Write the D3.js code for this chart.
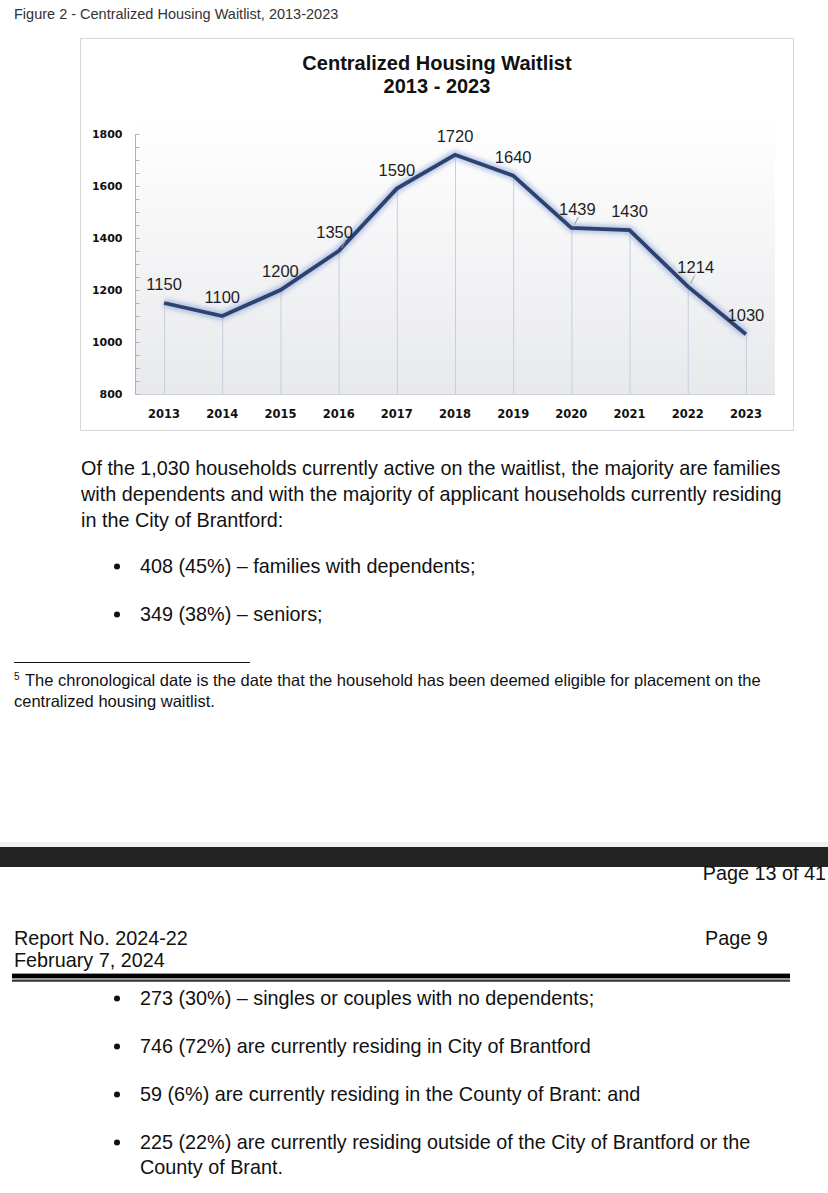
<!DOCTYPE html>
<html>
<head>
<meta charset="utf-8">
<script src="https://cdn.jsdelivr.net/npm/d3@7"></script>
<style>
  body { margin: 0; background: #fff; }
  svg { display: block; }
</style>
</head>
<body>
<div id="page"></div>
<script>
// Chart data
const years = ["2013", "2014", "2015", "2016", "2017", "2018", "2019", "2020", "2021", "2022", "2023"];
const waitlist = [1150, 1100, 1200, 1350, 1590, 1720, 1640, 1439, 1430, 1214, 1030];
const yTicks = [800, 1000, 1200, 1400, 1600, 1800];

// Page text
const intro = [
  "Of the 1,030 households currently active on the waitlist, the majority are families",
  "with dependents and with the majority of applicant households currently residing",
  "in the City of Brantford:"
];
const bulletsTop = ["408 (45%) \u2013 families with dependents;", "349 (38%) \u2013 seniors;"];
const bulletsBottom = [
  ["273 (30%) \u2013 singles or couples with no dependents;"],
  ["746 (72%) are currently residing in City of Brantford"],
  ["59 (6%) are currently residing in the County of Brant: and"],
  ["225 (22%) are currently residing outside of the City of Brantford or the", "County of Brant."]
];

const W = 828, H = 1193;
const svg = d3.select("#page").append("svg")
  .attr("width", W).attr("height", H)
  .style("font-family", "'Liberation Sans', Arial, sans-serif");

// Caption
svg.append("text")
  .attr("x", 14).attr("y", 19)
  .style("font-size", "14.5px").style("fill", "#333")
  .text("Figure 2 - Centralized Housing Waitlist, 2013-2023");

// Chart frame
svg.append("rect")
  .attr("x", 80.5).attr("y", 38.5).attr("width", 713).attr("height", 392)
  .attr("fill", "#fff").attr("stroke", "#d6d6d6");

const defs = svg.append("defs");
const grad = defs.append("linearGradient").attr("id", "bg").attr("x1", 0).attr("y1", 0).attr("x2", 0).attr("y2", 1);
grad.append("stop").attr("offset", "0%").attr("stop-color", "#ffffff");
grad.append("stop").attr("offset", "100%").attr("stop-color", "#e8e9ec");

const glow = defs.append("filter").attr("id", "glow")
  .attr("x", "-10%").attr("y", "-20%").attr("width", "120%").attr("height", "140%");
glow.append("feGaussianBlur").attr("stdDeviation", 2.5);

// Scales
const plot = { left: 135, right: 775, top: 134, bottom: 394 };
const x = d3.scaleBand().domain(years).range([plot.left, plot.right]).padding(0);
const cx = d => x(d) + x.bandwidth() / 2;
const y = d3.scaleLinear().domain([800, 1800]).range([plot.bottom, plot.top]);

// Plot background
svg.append("rect")
  .attr("x", plot.left).attr("y", 118)
  .attr("width", plot.right - plot.left).attr("height", plot.bottom - 118)
  .attr("fill", "url(#bg)");

// Title
svg.append("text")
  .attr("x", 437).attr("y", 70).attr("text-anchor", "middle")
  .style("font-size", "20px").style("font-weight", "bold").style("fill", "#111")
  .text("Centralized Housing Waitlist");
svg.append("text")
  .attr("x", 437).attr("y", 93).attr("text-anchor", "middle")
  .style("font-size", "20px").style("font-weight", "bold").style("fill", "#111")
  .text("2013 - 2023");

// Baseline
svg.append("line")
  .attr("x1", plot.left).attr("x2", plot.right)
  .attr("y1", plot.bottom + 0.5).attr("y2", plot.bottom + 0.5)
  .attr("stroke", "#cfd2d8");

// Drop lines from each point
svg.selectAll(".drop")
  .data(years)
  .enter().append("line")
  .attr("x1", d => cx(d) + 0.5).attr("x2", d => cx(d) + 0.5)
  .attr("y1", (d, i) => y(waitlist[i])).attr("y2", plot.bottom)
  .attr("stroke", "#c6cee0").attr("stroke-width", 1);

// Y axis with minor ticks
const yAxis = svg.append("g").attr("transform", `translate(${plot.left + 0.5},0)`);
yAxis.append("line").attr("y1", plot.top).attr("y2", plot.bottom).attr("stroke", "#a9b3c8");
yAxis.selectAll(".minor")
  .data(d3.range(800, 1801, 50))
  .enter().append("line")
  .attr("x1", 0).attr("x2", 4)
  .attr("y1", d => Math.round(y(d)) + 0.5).attr("y2", d => Math.round(y(d)) + 0.5)
  .attr("stroke", "#a9b3c8");
yAxis.selectAll(".ylab")
  .data(yTicks)
  .enter().append("text")
  .attr("x", -13).attr("y", d => y(d) + 4)
  .attr("text-anchor", "end")
  .style("font-family", "'DejaVu Sans', Verdana, sans-serif")
  .style("font-size", "11px").style("font-weight", "bold").style("fill", "#111")
  .text(d => d);

// X labels
svg.selectAll(".xlab")
  .data(years)
  .enter().append("text")
  .attr("x", d => cx(d)).attr("y", 418)
  .attr("text-anchor", "middle")
  .style("font-family", "'DejaVu Sans', Verdana, sans-serif")
  .style("font-size", "11.5px").style("font-weight", "bold").style("fill", "#111")
  .text(d => d);

// Line with soft glow
const line = d3.line().x(d => cx(d.year)).y(d => y(d.value));
const pts = years.map((yr, i) => ({ year: yr, value: waitlist[i] }));
svg.append("path").datum(pts)
  .attr("d", line).attr("fill", "none")
  .attr("stroke", "#8fa6d6").attr("stroke-width", 8).attr("stroke-opacity", 0.7)
  .attr("stroke-linejoin", "round")
  .attr("filter", "url(#glow)");
svg.append("path").datum(pts)
  .attr("d", line).attr("fill", "none")
  .attr("stroke", "#2d4271").attr("stroke-width", 3.8)
  .attr("stroke-linejoin", "miter");

// Data labels (small horizontal nudges like the original)
const labelDx = [0, 0, 0, -4, 0, 0, 0, 6, 0, 8, 0];
const leader = [false, false, false, true, false, false, false, true, false, true, false];
svg.selectAll(".leader")
  .data(pts.filter((d, i) => leader[i]))
  .enter().append("line")
  .attr("x1", d => cx(d.year) + 3).attr("y1", d => y(d.value) - 3)
  .attr("x2", d => cx(d.year) + 7).attr("y2", d => y(d.value) - 11)
  .attr("stroke", "#999");
svg.selectAll(".dlab")
  .data(pts)
  .enter().append("text")
  .attr("x", (d, i) => cx(d.year) + labelDx[i])
  .attr("y", d => y(d.value) - 13)
  .attr("text-anchor", "middle")
  .style("font-size", "16.5px").style("fill", "#1e1e1e")
  .text(d => d.value);

// Body text
const body = svg.append("g").style("font-size", "19.8px").style("fill", "#111");
body.selectAll(".intro")
  .data(intro)
  .enter().append("text")
  .attr("x", 81).attr("y", (d, i) => 475 + i * 26)
  .text(d => d);

function bullets(list, y0, step) {
  let yy = y0;
  list.forEach(item => {
    const lines = Array.isArray(item) ? item : [item];
    body.append("circle").attr("cx", 117).attr("cy", yy - 6.5).attr("r", 3).attr("fill", "#111");
    lines.forEach((t, j) => {
      body.append("text").attr("x", 140).attr("y", yy + j * 25).text(t);
    });
    yy += step + (lines.length - 1) * 25;
  });
}
bullets(bulletsTop, 573, 48);

// Footnote
svg.append("line").attr("x1", 14).attr("x2", 250).attr("y1", 662.5).attr("y2", 662.5).attr("stroke", "#111");
svg.append("text").attr("x", 14).attr("y", 680).style("font-size", "10px").style("fill", "#111").text("5");
svg.append("text").attr("x", 25).attr("y", 686).style("font-size", "16.5px").style("fill", "#111")
  .text("The chronological date is the date that the household has been deemed eligible for placement on the");
svg.append("text").attr("x", 14).attr("y", 707).style("font-size", "16.5px").style("fill", "#111")
  .text("centralized housing waitlist.");

// Page break band
svg.append("rect").attr("x", 0).attr("y", 842).attr("width", W).attr("height", 5).attr("fill", "#f1f1f1");
svg.append("rect").attr("x", 0).attr("y", 847).attr("width", W).attr("height", 20).attr("fill", "#232323");

// Header of next page
const hdr = svg.append("g").style("font-size", "19.8px").style("fill", "#111");
hdr.append("text").attr("x", W - 2).attr("y", 880).attr("text-anchor", "end").text("Page  13 of 41");
hdr.append("text").attr("x", 14).attr("y", 945).text("Report No.  2024-22");
hdr.append("text").attr("x", 14).attr("y", 967).text("February 7, 2024");
hdr.append("text").attr("x", 705).attr("y", 945).text("Page 9");
svg.append("rect").attr("x", 12).attr("y", 973).attr("width", 778).attr("height", 9).attr("fill", "#9a9a9a");
svg.append("rect").attr("x", 12).attr("y", 974).attr("width", 778).attr("height", 4).attr("fill", "#000");
svg.append("rect").attr("x", 12).attr("y", 980).attr("width", 778).attr("height", 1.5).attr("fill", "#333");

bullets(bulletsBottom, 1005, 48);
</script>
</body>
</html>
